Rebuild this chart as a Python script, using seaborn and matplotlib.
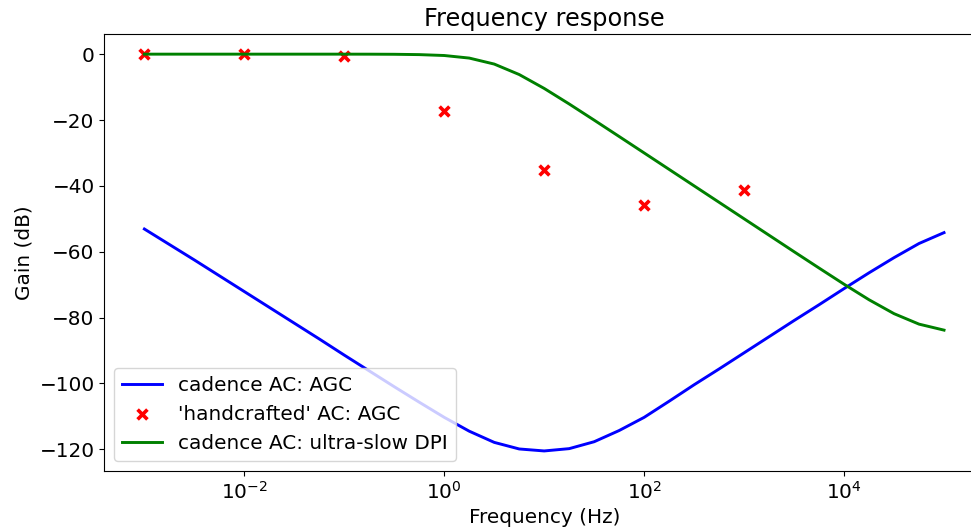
import numpy as np
import pandas as pd
import matplotlib
matplotlib.use("Agg")
import matplotlib.pyplot as plt
import matplotlib.ticker as mticker
import seaborn as sns

# ---- data ----
log_freq = [-3.0, -2.75, -2.5, -2.25, -2.0, -1.75, -1.5, -1.25, -1.0, -0.75,
            -0.5, -0.25, 0.0, 0.25, 0.5, 0.75, 1.0, 1.25, 1.5, 1.75,
            2.0, 2.25, 2.5, 2.75, 3.0, 3.25, 3.5, 3.75, 4.0, 4.25,
            4.5, 4.75, 5.0]

agc_gain = [-53.1, -57.8, -62.5, -67.3, -72.1, -76.9, -81.7, -86.5, -91.4, -96.2,
            -101.0, -105.7, -110.3, -114.5, -117.9, -119.9, -120.5, -119.8, -117.7, -114.3,
            -110.3, -105.4, -100.4, -95.6, -90.7, -85.8, -80.9, -76.1, -71.2, -66.4,
            -61.8, -57.5, -54.2]

dpi_gain = [0.0, 0.0, 0.0, 0.0, 0.0, 0.0, 0.0, 0.0, 0.0, -0.01,
            -0.04, -0.14, -0.41, -1.19, -3.01, -6.19, -10.41, -15.13, -20.04, -25.01,
            -30.0, -35.0, -40.0, -45.0, -50.0, -55.0, -60.0, -64.96, -69.87, -74.59,
            -78.81, -81.99, -83.81]

hand_freq = [1e-3, 1e-2, 1e-1, 1e0, 1e1, 1e2, 1e3]
hand_gain = [0.0, 0.0, -0.5, -17.2, -35.3, -45.8, -41.4]

xtick_vals = [1e-2, 1e0, 1e2, 1e4]

freq = [10 ** v for v in log_freq]
df_agc = pd.DataFrame({"freq": freq, "gain": agc_gain})
df_dpi = pd.DataFrame({"freq": freq, "gain": dpi_gain})
df_hand = pd.DataFrame({"freq": hand_freq, "gain": hand_gain})

plt.rcParams["font.size"] = 14.4
plt.rcParams["font.family"] = ["DejaVu Sans"]

fig = plt.figure(figsize=(9.71, 5.31), dpi=100)
W, H = 971, 531
left_px, right_px, top_px, bottom_px = 104.4, 984.0, 34.3, 470.7
ax = fig.add_axes([left_px / W, 1 - bottom_px / H,
                   (right_px - left_px) / W, (bottom_px - top_px) / H])
ax.set_xscale("log")

sns.lineplot(data=df_agc, x="freq", y="gain", color="blue", linewidth=2.1,
             label="cadence AC: AGC", ax=ax)
sns.scatterplot(data=df_hand, x="freq", y="gain", color="red", marker="x",
                s=50, linewidth=2.6, label="'handcrafted' AC: AGC", ax=ax)
sns.lineplot(data=df_dpi, x="freq", y="gain", color="green", linewidth=2.1,
             label="cadence AC: ultra-slow DPI", ax=ax)

ax.set_xticks(xtick_vals)
ax.xaxis.set_minor_locator(mticker.NullLocator())
ax.set_xlim(10 ** -3.4, 10 ** 5.4)
ax.set_ylim(-126.5, 6.03)

ax.set_title("Frequency response", fontsize=17.3)
ax.set_xlabel("Frequency (Hz)")
ax.set_ylabel("Gain (dB)")
ax.legend(loc="lower left", fontsize=14.4)

fig.savefig("out.png", dpi=100)
